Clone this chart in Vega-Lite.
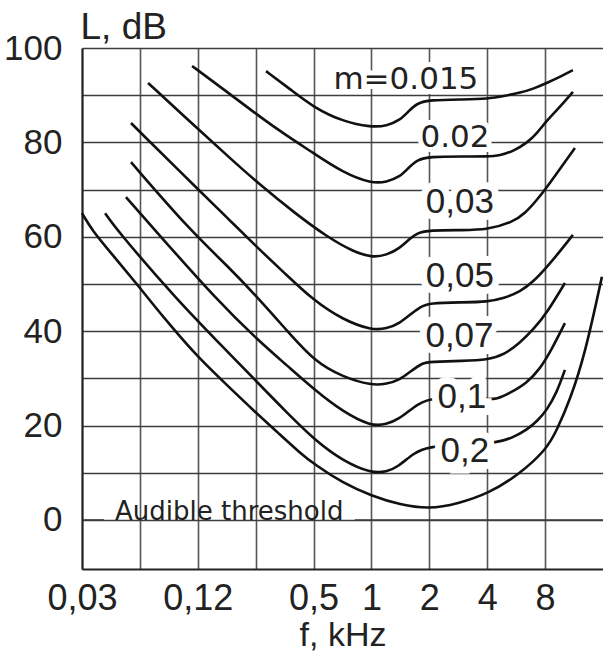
{
  "$schema": "https://vega.github.io/schema/vega-lite/v6.json",
  "width": 521,
  "height": 521,
  "autosize": {"type": "none"},
  "padding": {"left": 82, "top": 48, "right": 0, "bottom": 88},
  "background": "white",
  "config": {"view": {"stroke": null}},
  "datasets": {
    "curves": [
      {"m": "0.015", "f": 0.283, "L": 95.1}, {"m": "0.015", "f": 0.38, "L": 91.2}, {"m": "0.015", "f": 0.497, "L": 87.5}, {"m": "0.015", "f": 0.711, "L": 84.4}, {"m": "0.015", "f": 1.0, "L": 83.2}, {"m": "0.015", "f": 1.2, "L": 83.5}, {"m": "0.015", "f": 1.406, "L": 84.7}, {"m": "0.015", "f": 1.56, "L": 86.6}, {"m": "0.015", "f": 1.725, "L": 88.3}, {"m": "0.015", "f": 2.0, "L": 89.0}, {"m": "0.015", "f": 3.0, "L": 89.1}, {"m": "0.015", "f": 4.0, "L": 89.2}, {"m": "0.015", "f": 5.0, "L": 89.9}, {"m": "0.015", "f": 5.92, "L": 90.5}, {"m": "0.015", "f": 7.0, "L": 91.4}, {"m": "0.015", "f": 8.18, "L": 92.6}, {"m": "0.015", "f": 9.7, "L": 94.0}, {"m": "0.015", "f": 11.16, "L": 95.3},
      {"m": "0.02", "f": 0.1167, "L": 96.2}, {"m": "0.02", "f": 0.175, "L": 90.9}, {"m": "0.02", "f": 0.263, "L": 85.4}, {"m": "0.02", "f": 0.36, "L": 81.5}, {"m": "0.02", "f": 0.497, "L": 77.8}, {"m": "0.02", "f": 0.711, "L": 73.6}, {"m": "0.02", "f": 1.0, "L": 71.3}, {"m": "0.02", "f": 1.2, "L": 71.6}, {"m": "0.02", "f": 1.406, "L": 72.7}, {"m": "0.02", "f": 1.56, "L": 74.6}, {"m": "0.02", "f": 1.725, "L": 76.3}, {"m": "0.02", "f": 2.0, "L": 77.0}, {"m": "0.02", "f": 3.0, "L": 77.0}, {"m": "0.02", "f": 4.0, "L": 77.0}, {"m": "0.02", "f": 4.66, "L": 77.2}, {"m": "0.02", "f": 5.5, "L": 78.2}, {"m": "0.02", "f": 6.44, "L": 79.9}, {"m": "0.02", "f": 7.25, "L": 81.9}, {"m": "0.02", "f": 8.18, "L": 84.7}, {"m": "0.02", "f": 9.6, "L": 87.6}, {"m": "0.02", "f": 11.16, "L": 90.7},
      {"m": "0.03", "f": 0.0689, "L": 92.6}, {"m": "0.03", "f": 0.125, "L": 82.9}, {"m": "0.03", "f": 0.18, "L": 77.0}, {"m": "0.03", "f": 0.263, "L": 71.0}, {"m": "0.03", "f": 0.4, "L": 65.0}, {"m": "0.03", "f": 0.587, "L": 60.0}, {"m": "0.03", "f": 0.8, "L": 56.9}, {"m": "0.03", "f": 1.0, "L": 55.6}, {"m": "0.03", "f": 1.2, "L": 56.1}, {"m": "0.03", "f": 1.406, "L": 57.6}, {"m": "0.03", "f": 1.56, "L": 59.4}, {"m": "0.03", "f": 1.725, "L": 60.8}, {"m": "0.03", "f": 2.0, "L": 61.4}, {"m": "0.03", "f": 3.0, "L": 61.4}, {"m": "0.03", "f": 4.0, "L": 61.5}, {"m": "0.03", "f": 5.44, "L": 63.1}, {"m": "0.03", "f": 6.3, "L": 65.0}, {"m": "0.03", "f": 7.25, "L": 67.8}, {"m": "0.03", "f": 8.2, "L": 70.6}, {"m": "0.03", "f": 9.22, "L": 73.5}, {"m": "0.03", "f": 11.43, "L": 78.8},
      {"m": "0.05", "f": 0.0562, "L": 84.1}, {"m": "0.05", "f": 0.0625, "L": 82.2}, {"m": "0.05", "f": 0.125, "L": 70.1}, {"m": "0.05", "f": 0.18, "L": 63.8}, {"m": "0.05", "f": 0.263, "L": 57.2}, {"m": "0.05", "f": 0.36, "L": 52.0}, {"m": "0.05", "f": 0.497, "L": 46.6}, {"m": "0.05", "f": 0.711, "L": 42.4}, {"m": "0.05", "f": 1.0, "L": 40.2}, {"m": "0.05", "f": 1.2, "L": 40.5}, {"m": "0.05", "f": 1.406, "L": 41.7}, {"m": "0.05", "f": 1.6, "L": 43.6}, {"m": "0.05", "f": 1.787, "L": 45.1}, {"m": "0.05", "f": 2.0, "L": 46.0}, {"m": "0.05", "f": 3.0, "L": 46.1}, {"m": "0.05", "f": 4.0, "L": 46.2}, {"m": "0.05", "f": 4.9, "L": 47.0}, {"m": "0.05", "f": 5.92, "L": 48.3}, {"m": "0.05", "f": 7.0, "L": 50.6}, {"m": "0.05", "f": 8.18, "L": 53.6}, {"m": "0.05", "f": 9.6, "L": 57.0}, {"m": "0.05", "f": 11.16, "L": 60.4},
      {"m": "0.07", "f": 0.0562, "L": 75.8}, {"m": "0.07", "f": 0.1138, "L": 61.4}, {"m": "0.07", "f": 0.18, "L": 53.7}, {"m": "0.07", "f": 0.263, "L": 46.6}, {"m": "0.07", "f": 0.36, "L": 40.3}, {"m": "0.07", "f": 0.508, "L": 33.5}, {"m": "0.07", "f": 0.711, "L": 30.3}, {"m": "0.07", "f": 1.0, "L": 28.5}, {"m": "0.07", "f": 1.2, "L": 28.8}, {"m": "0.07", "f": 1.406, "L": 29.7}, {"m": "0.07", "f": 1.6, "L": 31.5}, {"m": "0.07", "f": 1.853, "L": 33.3}, {"m": "0.07", "f": 2.0, "L": 33.5}, {"m": "0.07", "f": 3.0, "L": 33.7}, {"m": "0.07", "f": 4.0, "L": 33.9}, {"m": "0.07", "f": 4.9, "L": 35.0}, {"m": "0.07", "f": 5.92, "L": 37.5}, {"m": "0.07", "f": 7.0, "L": 40.5}, {"m": "0.07", "f": 8.18, "L": 43.9}, {"m": "0.07", "f": 10.14, "L": 50.2},
      {"m": "0.1", "f": 0.0529, "L": 68.4}, {"m": "0.1", "f": 0.0749, "L": 61.4}, {"m": "0.1", "f": 0.157, "L": 46.6}, {"m": "0.1", "f": 0.263, "L": 37.7}, {"m": "0.1", "f": 0.36, "L": 32.9}, {"m": "0.1", "f": 0.508, "L": 27.5}, {"m": "0.1", "f": 0.711, "L": 22.9}, {"m": "0.1", "f": 1.0, "L": 19.8}, {"m": "0.1", "f": 1.2, "L": 20.3}, {"m": "0.1", "f": 1.37, "L": 21.2}, {"m": "0.1", "f": 1.66, "L": 23.9}, {"m": "0.1", "f": 1.96, "L": 25.8}, {"m": "0.1", "f": 3.0, "L": 25.9}, {"m": "0.1", "f": 4.0, "L": 25.6}, {"m": "0.1", "f": 4.49, "L": 25.6}, {"m": "0.1", "f": 5.2, "L": 26.8}, {"m": "0.1", "f": 6.44, "L": 29.0}, {"m": "0.1", "f": 7.5, "L": 32.0}, {"m": "0.1", "f": 8.47, "L": 35.4}, {"m": "0.1", "f": 10.14, "L": 41.7},
      {"m": "0.2", "f": 0.0412, "L": 65.0}, {"m": "0.2", "f": 0.0475, "L": 61.4}, {"m": "0.2", "f": 0.0975, "L": 46.6}, {"m": "0.2", "f": 0.18, "L": 35.5}, {"m": "0.2", "f": 0.263, "L": 28.6}, {"m": "0.2", "f": 0.36, "L": 22.9}, {"m": "0.2", "f": 0.508, "L": 16.9}, {"m": "0.2", "f": 0.711, "L": 12.5}, {"m": "0.2", "f": 1.0, "L": 9.9}, {"m": "0.2", "f": 1.2, "L": 10.2}, {"m": "0.2", "f": 1.37, "L": 11.2}, {"m": "0.2", "f": 1.66, "L": 14.2}, {"m": "0.2", "f": 1.96, "L": 15.5}, {"m": "0.2", "f": 3.0, "L": 16.0}, {"m": "0.2", "f": 4.49, "L": 16.3}, {"m": "0.2", "f": 5.4, "L": 17.4}, {"m": "0.2", "f": 6.44, "L": 19.1}, {"m": "0.2", "f": 7.3, "L": 21.0}, {"m": "0.2", "f": 8.18, "L": 23.3}, {"m": "0.2", "f": 9.2, "L": 27.0}, {"m": "0.2", "f": 10.14, "L": 31.8},
      {"m": "threshold", "f": 0.03125, "L": 65.0}, {"m": "threshold", "f": 0.0352, "L": 61.4}, {"m": "threshold", "f": 0.045, "L": 56.2}, {"m": "threshold", "f": 0.0625, "L": 49.2}, {"m": "threshold", "f": 0.0689, "L": 47.0}, {"m": "threshold", "f": 0.09, "L": 41.2}, {"m": "threshold", "f": 0.125, "L": 34.5}, {"m": "threshold", "f": 0.18, "L": 28.3}, {"m": "threshold", "f": 0.242, "L": 23.3}, {"m": "threshold", "f": 0.33, "L": 18.3}, {"m": "threshold", "f": 0.425, "L": 14.2}, {"m": "threshold", "f": 0.508, "L": 11.7}, {"m": "threshold", "f": 0.711, "L": 7.8}, {"m": "threshold", "f": 1.0, "L": 5.1}, {"m": "threshold", "f": 1.41, "L": 3.2}, {"m": "threshold", "f": 2.0, "L": 2.3}, {"m": "threshold", "f": 2.8, "L": 3.4}, {"m": "threshold", "f": 4.1, "L": 5.7}, {"m": "threshold", "f": 5.8, "L": 9.5}, {"m": "threshold", "f": 8.18, "L": 15.0}, {"m": "threshold", "f": 9.22, "L": 19.1}, {"m": "threshold", "f": 10.77, "L": 25.4}, {"m": "threshold", "f": 12.88, "L": 35.0}, {"m": "threshold", "f": 15.79, "L": 51.5}
    ],
    "zeroLine": [
      {"a": 0.0318, "b": 0.0406, "L": 0},
      {"a": 0.82, "b": 16, "L": 0}
    ],
    "labelsDV": [
      {"t": "m=0.015", "f": 1.51, "L": 91.3},
      {"t": "0.02", "f": 2.72, "L": 79.0}
    ],
    "labelsLS": [
      {"t": "0,03", "f": 2.885, "L": 65.0},
      {"t": "0,05", "f": 2.885, "L": 49.4},
      {"t": "0,07", "f": 2.87, "L": 36.7},
      {"t": "0,1", "f": 2.955, "L": 23.7},
      {"t": "0,2", "f": 3.06, "L": 12.3}
    ],
    "thrLabel": [
      {"t": "Audible threshold", "f": 0.0464, "L": 0}
    ]
  },
  "layer": [
    {
      "mark": {"type": "rect", "color": "white"},
      "encoding": {
        "x": {"datum": 0.0318, "type": "quantitative"},
        "x2": {"datum": 0.8},
        "y": {"datum": -7.8, "type": "quantitative"},
        "y2": {"datum": 8.05}
      }
    },
    {
      "data": {"name": "zeroLine"},
      "mark": {"type": "rule", "color": "#3d3d3d", "strokeWidth": 1.5},
      "encoding": {
        "x": {"field": "a", "type": "quantitative"},
        "x2": {"field": "b"},
        "y": {"field": "L", "type": "quantitative"}
      }
    },
    {
      "data": {"name": "curves"},
      "mark": {"type": "line", "color": "#111", "strokeWidth": 2.6, "interpolate": "basis"},
      "encoding": {
        "x": {
          "field": "f", "type": "quantitative",
          "scale": {"type": "log", "base": 2, "domain": [0.03125, 16], "nice": false},
          "axis": {
            "values": [0.03125, 0.0625, 0.125, 0.25, 0.5, 1, 2, 4, 8],
            "labelExpr": "datum.value == 0.03125 ? '0,03' : datum.value == 0.125 ? '0,12' : datum.value == 0.5 ? '0,5' : datum.value >= 1 ? format(datum.value, 'd') : ''",
            "grid": true, "gridColor": "#555", "gridWidth": 1.6,
            "ticks": false, "tickSize": 0,
            "domainColor": "#222", "domainWidth": 2,
            "labelFont": "Liberation Sans", "labelFontSize": 36, "labelColor": "#222",
            "labelPadding": 12, "labelFlush": false, "labelOverlap": false,
            "title": "f, kHz", "titleFont": "Liberation Sans", "titleFontSize": 34,
            "titleFontWeight": "normal", "titleColor": "#222", "titlePadding": 2
          }
        },
        "y": {
          "field": "L", "type": "quantitative",
          "scale": {"domain": [-10.4, 100], "nice": false, "zero": false},
          "axis": {
            "values": [0, 10, 20, 30, 40, 50, 60, 70, 80, 90, 100],
            "labelExpr": "datum.value % 20 == 0 ? format(datum.value, 'd') : ''",
            "grid": true, "gridColor": "#3d3d3d", "gridWidth": 1.5,
            "ticks": false, "tickSize": 0,
            "domainColor": "#222", "domainWidth": 2,
            "labelFont": "Liberation Sans", "labelFontSize": 35, "labelColor": "#222",
            "labelPadding": 20,
            "title": "L, dB", "titleFont": "Liberation Sans", "titleFontSize": 37,
            "titleFontWeight": "normal", "titleColor": "#222",
            "titleAngle": 0, "titleAlign": "left", "titleBaseline": "alphabetic",
            "titleX": -2, "titleY": -10
          }
        },
        "detail": {"field": "m"}
      }
    },
    {
      "data": {"name": "labelsDV"},
      "mark": {"type": "text", "font": "DejaVu Sans", "fontSize": 31, "align": "center", "baseline": "alphabetic", "fill": "white", "stroke": "white", "strokeWidth": 10},
      "encoding": {"x": {"field": "f", "type": "quantitative"}, "y": {"field": "L", "type": "quantitative"}, "text": {"field": "t"}}
    },
    {
      "data": {"name": "labelsDV"},
      "mark": {"type": "text", "font": "DejaVu Sans", "fontSize": 31, "align": "center", "baseline": "alphabetic", "color": "#222"},
      "encoding": {"x": {"field": "f", "type": "quantitative"}, "y": {"field": "L", "type": "quantitative"}, "text": {"field": "t"}}
    },
    {
      "data": {"name": "labelsLS"},
      "mark": {"type": "text", "font": "Liberation Sans", "fontSize": 35, "align": "center", "baseline": "alphabetic", "fill": "white", "stroke": "white", "strokeWidth": 14},
      "encoding": {"x": {"field": "f", "type": "quantitative"}, "y": {"field": "L", "type": "quantitative"}, "text": {"field": "t"}}
    },
    {
      "data": {"name": "labelsLS"},
      "mark": {"type": "text", "font": "Liberation Sans", "fontSize": 35, "align": "center", "baseline": "alphabetic", "color": "#222"},
      "encoding": {"x": {"field": "f", "type": "quantitative"}, "y": {"field": "L", "type": "quantitative"}, "text": {"field": "t"}}
    },
    {
      "data": {"name": "thrLabel"},
      "mark": {"type": "text", "font": "DejaVu Sans", "fontSize": 26, "align": "left", "baseline": "alphabetic", "color": "#222"},
      "encoding": {"x": {"field": "f", "type": "quantitative"}, "y": {"field": "L", "type": "quantitative"}, "text": {"field": "t"}}
    }
  ]
}
